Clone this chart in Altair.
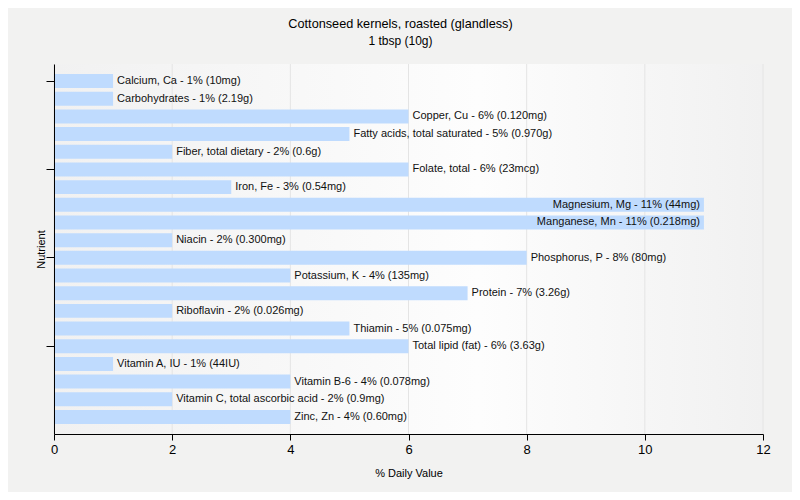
import altair as alt
import pandas as pd

names = ["Calcium, Ca", "Carbohydrates", "Copper, Cu", "Fatty acids, total saturated",
         "Fiber, total dietary", "Folate, total", "Iron, Fe", "Magnesium, Mg",
         "Manganese, Mn", "Niacin", "Phosphorus, P", "Potassium, K", "Protein",
         "Riboflavin", "Thiamin", "Total lipid (fat)", "Vitamin A, IU", "Vitamin B-6",
         "Vitamin C, total ascorbic acid", "Zinc, Zn"]
dv = [1, 1, 6, 5, 2, 6, 3, 11, 11, 2, 8, 4, 7, 2, 5, 6, 1, 4, 2, 4]
amounts = ["10mg", "2.19g", "0.120mg", "0.970g", "0.6g", "23mcg", "0.54mg", "44mg",
           "0.218mg", "0.300mg", "80mg", "135mg", "3.26g", "0.026mg", "0.075mg",
           "3.63g", "44IU", "0.078mg", "0.9mg", "0.60mg"]
tick_names = ["Calcium, Ca", "Folate, total", "Phosphorus, P", "Total lipid (fat)"]
x_ticks = [0, 2, 4, 6, 8, 10, 12]

df = pd.DataFrame({"name": names, "dv": dv, "amount": amounts})
df["label"] = [f"{n} - {v}% ({a})" for n, v, a in zip(names, dv, amounts)]
df["inside"] = df["dv"] >= 11
grid_df = pd.DataFrame({"g": x_ticks})

FONT = "Liberation Sans"

y_enc = alt.Y("name:N", sort=names, title="Nutrient",
              scale=alt.Scale(paddingInner=0.21, paddingOuter=0.57),
              axis=alt.Axis(labels=False, values=tick_names, tickSize=8,
                            tickColor="#000", domainColor="#000", zindex=1,
                            titleFont=FONT, titleFontSize=11, titleFontWeight="normal",
                            titleColor="#000", titlePadding=-1))
x_enc = alt.X("dv:Q", title="% Daily Value",
              scale=alt.Scale(domain=[0, 12], nice=False),
              axis=alt.Axis(values=x_ticks, tickSize=6, format="d", labelFlush=False,
                            tickColor="#000", domainColor="#000", grid=False, zindex=1,
                            labelFont=FONT, labelFontSize=13,
                            labelColor="#000", labelPadding=3,
                            titleFont=FONT, titleFontSize=11, titleFontWeight="normal",
                            titleColor="#000", titlePadding=11))

gradient = alt.Gradient(gradient="linear", x1=0, y1=0, x2=1, y2=0,
                        stops=[alt.GradientStop(offset=0, color="#f1f1f1"),
                               alt.GradientStop(offset=0.6, color="#fdfdfd"),
                               alt.GradientStop(offset=1, color="#f1f1f1")])

bg = alt.Chart(grid_df).transform_filter("datum.g == 0").mark_rect(color=gradient).encode(
    x=alt.datum(0), x2=alt.datum(12), y=alt.value(0), y2=alt.value(370))
grid = alt.Chart(grid_df).mark_rule(color="#e4e4e4", strokeWidth=1).encode(
    x="g:Q", y=alt.value(0), y2=alt.value(370))

base = alt.Chart(df)
bars = base.mark_bar(color="#bfdbfe").encode(x=x_enc, y=y_enc)
out_labels = base.transform_filter("!datum.inside").mark_text(
    align="left", baseline="middle", dx=4, font=FONT, fontSize=11, color="#111"
).encode(x="dv:Q", y=alt.Y("name:N", sort=names), text="label:N")
in_labels = base.transform_filter("datum.inside").mark_text(
    align="right", baseline="middle", dx=-4, font=FONT, fontSize=11, color="#111"
).encode(x="dv:Q", y=alt.Y("name:N", sort=names), text="label:N")

chart = alt.layer(bg, grid, bars, out_labels, in_labels).properties(
    width=709, height=370,
    title=alt.TitleParams(text="Cottonseed kernels, roasted (glandless)",
                          subtitle="1 tbsp (10g)", font=FONT, fontSize=12.7,
                          fontWeight="normal", color="#000", subtitleFont=FONT,
                          subtitleFontSize=12, subtitleColor="#000",
                          anchor="middle", dx=-8, offset=17, subtitlePadding=5),
    autosize=alt.AutoSizeParams(type="none"),
    padding={"left": 46, "top": 56, "right": 29, "bottom": 58},
    background="#f2f2f1",
).configure_view(stroke=None)

chart.save("out.html", embed_options={"renderer": "svg", "actions": False})
